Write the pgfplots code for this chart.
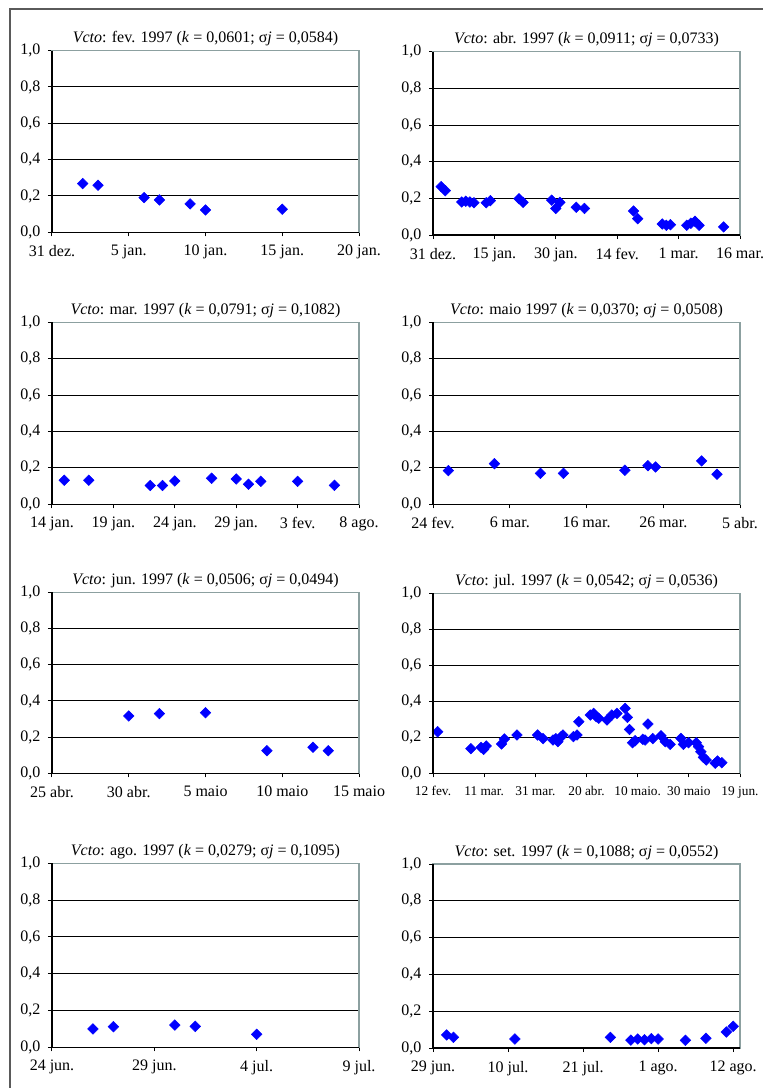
\documentclass[border=0pt,12pt]{standalone}
\usepackage{fontspec}
\setmainfont{Liberation Serif}
\usepackage{pgfplots}
\pgfplotsset{compat=1.18}
\definecolor{bordergray}{RGB}{140,160,160}
\definecolor{framegray}{RGB}{90,90,90}
\newcommand{\ttl}[3]{\textit{Vcto}: #1 (\textit{k} = #2; σ\textit{j} = #3)}
\pgfplotsset{
  dia/.style={draw=blue, fill=blue, only marks, mark=square*, mark size=2.8pt, mark options={rotate=45, fill=blue, draw=blue}},
  panel/.style={
    scale only axis, width=230.25pt,
    xmin=0, ymin=0, ymax=1,
    ytick={0,0.2,0.4,0.6,0.8,1},
    ymajorgrids, grid style={black, line width=0.75pt},
    axis line style={draw=bordergray, line width=1pt},
    tick align=outside, xtick pos=bottom, ytick pos=left,
    major tick length=3pt, tick style={black, line width=0.75pt},
    yticklabel style={anchor=east, xshift=-1.5pt, /pgf/number format/.cd, fixed, fixed zerofill, precision=1, use comma, assume math mode=true},
    xticklabel style={anchor=north, yshift=-2.5pt, /pgf/number format/assume math mode=true},
    tick label style={font=\fontsize{12}{14}\selectfont},
    title style={font=\fontsize{12}{14}\selectfont, at={(0.5,1)}, anchor=south, yshift=-7pt},
    clip=false,
    after end axis/.code={\draw[black, line width=1pt] (rel axis cs:0,1) -- (rel axis cs:0,0) -- (rel axis cs:1,0);},
  }
}
\begin{document}
\begin{tikzpicture}
\useasboundingbox (0,0) rectangle (572.25pt,-816pt);
\fill[white] (0,0) rectangle (572.25pt,-816pt);
\draw[framegray, line width=1.5pt] (7.5pt,-830pt) -- (7.5pt,-6.75pt) -- (590pt,-6.75pt);

% Row 1 left: fev. 1997
\begin{axis}[panel, at={(39pt,-174.2pt)}, anchor=south west, height=136.2pt,
  xmax=20, xtick={0,5,10,15,20}, xticklabels={31 dez.,5 jan.,10 jan.,15 jan.,20 jan.},
  title={\ttl{fev. 1997}{0,0601}{0,0584}}]
\addplot[dia] coordinates {(2,0.268)(3,0.259)(6,0.191)(7,0.178)(9,0.156)(10,0.123)(15,0.127)};
\end{axis}

% Row 1 right: abr. 1997
\begin{axis}[panel, at={(324.75pt,-176.25pt)}, anchor=south west, height=137.5pt,
  xmax=75, xtick={0,15,30,45,60,75}, xticklabels={31 dez.,15 jan.,30 jan.,14 fev.,1 mar.,16 mar.},
  title={\ttl{abr. 1997}{0,0911}{0,0733}}]
\addplot[dia] coordinates {(2,0.264)(3,0.242)(7,0.18)(8,0.184)(9,0.18)(10,0.176)(13,0.176)(14,0.187)(21,0.198)(22,0.178)(29,0.19)(30,0.145)(31,0.178)(35,0.151)(37,0.145)(49,0.131)(50,0.089)(56,0.06)(57,0.053)(58,0.056)(62,0.053)(63,0.064)(64,0.075)(65,0.053)(71,0.044)};
\end{axis}

% Row 2 left: mar. 1997
\begin{axis}[panel, at={(39pt,-378.2pt)}, anchor=south west, height=136.5pt,
  xmax=25, xtick={0,5,10,15,20,25}, xticklabels={14 jan.,19 jan.,24 jan.,29 jan.,3 fev.,8 ago.},
  title={\ttl{mar. 1997}{0,0791}{0,1082}}]
\addplot[dia] coordinates {(1,0.132)(3,0.132)(8,0.103)(9,0.103)(10,0.128)(13,0.143)(15,0.139)(16,0.11)(17,0.126)(20,0.126)(23,0.104)};
\end{axis}

% Row 2 right: maio 1997
\begin{axis}[panel, at={(324.75pt,-378.2pt)}, anchor=south west, height=136.5pt,
  xmax=40, xtick={0,10,20,30,40}, xticklabels={24 fev.,6 mar.,16 mar.,26 mar.,5 abr.},
  title={\ttl{maio 1997}{0,0370}{0,0508}}]
\addplot[dia] coordinates {(2,0.185)(8,0.223)(14,0.17)(17,0.17)(25,0.187)(28,0.212)(29,0.205)(35,0.238)(37,0.165)};
\end{axis}

% Row 3 left: jun. 1997
\begin{axis}[panel, at={(39pt,-580pt)}, anchor=south west, height=135.75pt,
  xmax=20, xtick={0,5,10,15,20}, xticklabels={25 abr.,30 abr.,5 maio,10 maio,15 maio},
  title={\ttl{jun. 1997}{0,0506}{0,0494}}]
\addplot[dia] coordinates {(5,0.317)(7,0.33)(10,0.335)(14,0.125)(17,0.144)(18,0.125)};
\end{axis}

% Row 3 right: jul. 1997
\begin{axis}[panel, at={(324.75pt,-580pt)}, anchor=south west, height=135pt,
  xmax=120, xtick={0,20,40,60,80,100,120}, xticklabels={12 fev.,11 mar.,31 mar.,20 abr.,10 maio.,30 maio,19 jun.},
  xticklabel style={font=\fontsize{10}{12}\selectfont},
  title={\ttl{jul. 1997}{0,0542}{0,0536}}]
\addplot[dia] coordinates {(1.8,0.231)(14.8,0.137)(18.8,0.144)(19.8,0.133)(20.8,0.152)(26.8,0.163)(27.9,0.191)(32.8,0.213)(40.9,0.213)(43.0,0.193)(46.9,0.185)(48.0,0.193)(48.8,0.176)(50.1,0.204)(50.8,0.213)(54.9,0.204)(56.3,0.213)(57.0,0.287)(61.5,0.324)(62.8,0.333)(63.8,0.315)(64.8,0.306)(68.0,0.296)(69.9,0.324)(71.9,0.333)(75.1,0.361)(76.0,0.311)(76.8,0.244)(78.0,0.170)(79.0,0.181)(82.0,0.189)(82.9,0.185)(84.0,0.274)(85.9,0.193)(89.1,0.209)(90.8,0.176)(92.7,0.161)(96.9,0.194)(97.9,0.161)(99.9,0.170)(102.9,0.170)(103.8,0.148)(104.7,0.120)(105.7,0.089)(106.8,0.074)(110.3,0.056)(111.2,0.069)(112.9,0.059)};
\end{axis}

% Row 4 left: ago. 1997
\begin{axis}[panel, at={(39pt,-785.5pt)}, anchor=south west, height=138pt,
  xmax=15, xtick={0,5,10,15}, xticklabels={24 jun.,29 jun.,4 jul.,9 jul.},
  title={\ttl{ago. 1997}{0,0279}{0,1095}}]
\addplot[dia] coordinates {(2,0.1)(3,0.112)(6,0.121)(7,0.114)(10,0.071)};
\end{axis}

% Row 4 right: set. 1997
\begin{axis}[panel, at={(324.75pt,-786pt)}, anchor=south west, height=138pt,
  xmax=45, xtick={0,11,22,33,44}, xticklabels={29 jun.,10 jul.,21 jul.,1 ago.,12 ago.},
  title={\ttl{set. 1997}{0,1088}{0,0552}}]
\addplot[dia] coordinates {(2,0.071)(3,0.058)(12,0.049)(26,0.058)(29,0.043)(30,0.049)(31,0.045)(32,0.051)(33,0.049)(37,0.042)(40,0.053)(43,0.087)(44,0.118)};
\end{axis}
\end{tikzpicture}
\end{document}
